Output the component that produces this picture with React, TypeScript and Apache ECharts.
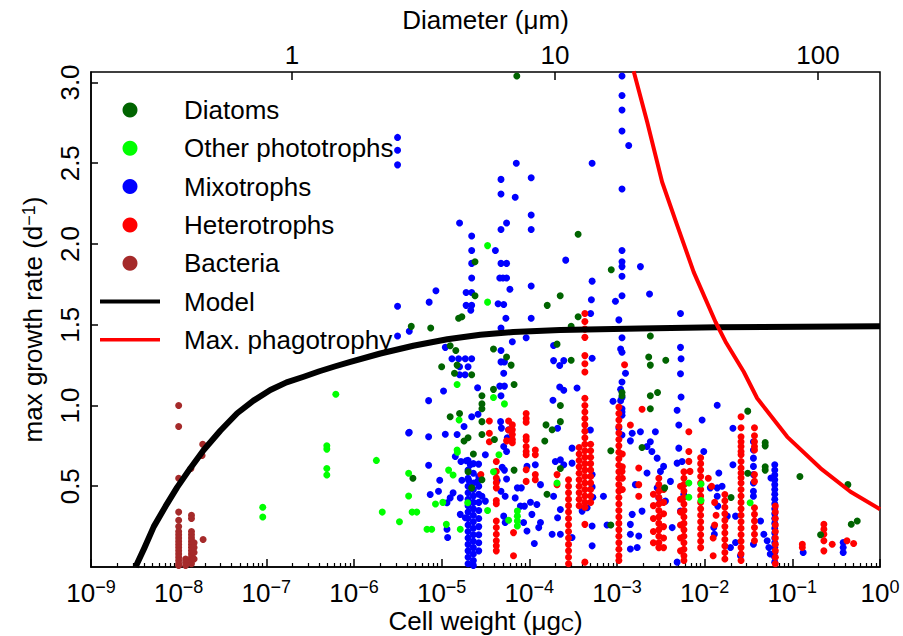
import { useEffect, useRef } from "react";
import * as echarts from "echarts";

// ---- axes ----
const X_MIN = 1e-9;
const X_MAX = 1;
const Y_MIN = 0;
const Y_MAX = 3.065;
const Y_TICKS = [0.5, 1.0, 1.5, 2.0, 2.5, 3.0];
const X_DECADES = [-9, -8, -7, -6, -5, -4, -3, -2, -1, 0];
const MINOR_MULTIPLIERS = [2, 3, 4, 5, 6, 7, 8, 9];
const DIAMETER_TICKS = [1, 10, 100];
const WEIGHT_OF_1UM_CELL = 1.96e-7;

// ---- data: [cell weight µgC, max growth rate d^-1] ----
const diatoms: [number, number][] = [
  [4.7e-6, 0.55], [7.2e-5, 3.04], [2.4e-5, 1.89], [2.4e-5, 1.68], [1.56e-5, 1.54], [1.7e-5, 1.55],
  [1.6e-4, 1.62], [2.25e-4, 1.68], [3.6e-4, 2.06], [8.6e-4, 1.84], [3.6e-4, 1.55],
  [4.5e-6, 1.49], [7.5e-6, 1.48], [1.0e-5, 1.24], [1.45e-5, 1.34], [1.5e-5, 1.25], [1.4e-5, 1.2],
  [2.2e-5, 1.19], [1.25e-5, 1.37], [2.88e-5, 1.06], [2.88e-5, 1.01], [2.88e-5, 0.98], [3.9e-5, 1.35],
  [5.5e-5, 1.3], [6.2e-5, 1.25], [3.9e-5, 1.1], [6.7e-5, 1.13], [1.25e-5, 0.93], [1.6e-5, 0.95],
  [2.88e-5, 0.9], [2.88e-5, 0.82], [2.0e-5, 0.8], [1.8e-5, 0.78], [4.0e-5, 0.79], [2.3e-5, 0.7],
  [2.0e-5, 0.59], [2.88e-5, 0.54], [2.2e-5, 0.49], [6.7e-5, 0.6], [1.55e-4, 0.88], [1.82e-4, 0.85],
  [1.5e-4, 0.78], [1.59e-4, 0.45],
  [3.0e-4, 1.49], [2.07e-4, 1.38], [3.0e-4, 1.28], [2.4e-3, 1.43], [2.3e-3, 1.3], [2.4e-3, 1.25],
  [3.6e-3, 1.28], [2.4e-3, 1.06], [2.9e-3, 1.08], [2.4e-3, 0.98], [1.14e-3, 1.08], [1.14e-3, 1.06],
  [2.26e-4, 1.0], [2.26e-4, 0.9], [2.26e-4, 0.61], [8.5e-4, 0.72], [1.93e-3, 0.74], [3.5e-3, 0.49],
  [8.5e-4, 0.26],
  [3.1e-2, 0.965], [4.9e-2, 0.77], [4.9e-2, 0.75], [4.9e-2, 0.62], [4.9e-2, 0.6], [3.1e-2, 0.58],
  [2.0e-2, 0.43], [0.122, 0.56], [0.43, 0.51], [0.55, 0.285], [0.47, 0.265], [0.21, 0.2],
];

const otherPhototrophs: [number, number][] = [
  [9.1e-8, 0.37], [9.1e-8, 0.31], [6.2e-7, 1.07], [4.9e-7, 0.75], [4.9e-7, 0.73], [4.9e-7, 0.61],
  [4.9e-7, 0.57], [1.8e-6, 0.66], [2.1e-6, 0.34], [3.3e-6, 0.28], [4.2e-6, 0.58], [4.2e-6, 0.44],
  [4.6e-6, 0.34], [5.2e-6, 0.34], [3.34e-5, 1.99], [3.34e-5, 1.64], [1.5e-5, 1.13], [3.9e-5, 1.05],
  [5.2e-5, 1.01], [1.58e-5, 0.91], [1.5e-5, 0.725], [1.51e-5, 0.71], [1.2e-5, 0.6], [1.35e-5, 0.57],
  [3.9e-5, 0.59], [4.5e-5, 0.695], [8.5e-6, 0.39], [1.03e-5, 0.4], [6.8e-6, 0.234], [7.7e-6, 0.234],
  [1.13e-5, 0.264], [1.63e-5, 0.234], [1.98e-5, 0.398], [3.34e-5, 0.35], [5.8e-5, 0.29],
  [7.3e-5, 0.346], [7.3e-5, 0.315], [7.3e-5, 0.285], [7.3e-5, 0.254], [2.07e-4, 0.52],
  [6.6e-3, 0.52], [9.1e-3, 0.514], [6.6e-3, 0.432], [9.1e-3, 0.412], [3.3e-2, 0.398],
];

const mixotrophs: [number, number][] = [
  [4.2e-6, 0.83], [3.14e-6, 2.66], [3.14e-6, 2.58], [3.14e-6, 2.49], [3.14e-6, 1.43], [7.1e-5, 2.5],
  [1.05e-4, 2.41], [4.75e-5, 2.4], [4.75e-5, 2.31], [6.9e-5, 2.29], [1.05e-4, 2.18], [1.6e-5, 2.13],
  [5.5e-5, 2.13], [4.75e-5, 2.09], [1.05e-4, 2.09], [2.2e-5, 2.05], [2.2e-5, 1.96], [4.1e-5, 1.96],
  [2.2e-5, 1.88], [4.75e-5, 1.88], [5.5e-5, 1.88], [2.2e-5, 1.79], [4.6e-5, 1.79], [5.0e-5, 1.79],
  [5.5e-5, 1.79], [6.0e-5, 1.72], [1.05e-4, 1.74], [8.6e-6, 1.71], [1.9e-5, 1.7], [2.2e-5, 1.7],
  [7.2e-6, 1.64], [3.14e-6, 1.615], [1.9e-5, 1.62], [2.2e-5, 1.62], [2.15e-5, 1.59], [4.4e-5, 1.63],
  [5.1e-5, 1.625], [5.4e-5, 1.54], [1.05e-4, 1.54],
  [1.14e-3, 3.04], [1.14e-3, 2.92], [1.14e-3, 2.83], [1.14e-3, 2.7], [1.36e-3, 2.61], [5.2e-4, 2.5],
  [1.14e-3, 2.34], [1.14e-3, 1.96], [2.6e-4, 1.9], [1.14e-3, 1.89], [1.14e-3, 1.86], [1.85e-3, 1.86],
  [1.14e-3, 1.8], [5.2e-4, 1.77], [5.1e-4, 1.655], [9.6e-4, 1.645], [1.14e-3, 1.68], [2.35e-3, 1.69],
  [5.0e-4, 1.57], [1.05e-3, 1.53], [5.3e-3, 1.57],
  [4.27e-6, 1.46], [1.1e-5, 1.36], [1.31e-5, 1.29], [1.56e-5, 1.29], [1.86e-5, 1.29], [2.2e-5, 1.29],
  [1.6e-5, 1.24], [2.0e-5, 1.24], [1.6e-5, 1.19], [1.85e-5, 1.19], [1.05e-5, 1.09], [7.1e-6, 1.03],
  [2.57e-5, 1.11], [4.75e-5, 1.48], [6.4e-5, 1.395], [9.2e-5, 1.42], [4.75e-5, 1.34], [4.75e-5, 1.27],
  [5.2e-5, 1.27], [5.1e-5, 1.2], [4.6e-5, 1.12], [5.2e-5, 1.12], [4.75e-5, 1.06], [2.2e-5, 0.93],
  [2.6e-5, 0.946], [1.8e-5, 0.87], [1.5e-5, 0.82], [1.1e-5, 0.822], [7.1e-6, 0.807], [4.27e-6, 0.834],
  [4.7e-5, 0.9], [4.8e-5, 0.86], [5.8e-5, 0.85], [5.6e-5, 0.8], [5.1e-5, 0.746], [5.5e-5, 0.715],
  [1.43e-5, 0.684], [1.66e-5, 0.653], [1.91e-5, 0.658], [2.12e-5, 0.633], [2.64e-5, 0.637],
  [3.15e-5, 0.695], [7.1e-6, 0.63], [4.9e-5, 0.617], [5.2e-5, 0.6], [9.4e-5, 0.623], [1.17e-4, 0.633],
  [9.5e-6, 0.537], [1.7e-5, 0.537], [2.03e-5, 0.537], [2.57e-5, 0.53], [4.3e-5, 0.535], [5.5e-5, 0.545],
  [7.3e-5, 0.49], [8.1e-5, 0.49], [1.34e-4, 0.51], [1.35e-5, 0.459], [1.25e-5, 0.428], [9.2e-6, 0.469],
  [7.4e-6, 0.449], [1.63e-5, 0.428], [1.15e-5, 0.398], [2.88e-5, 0.438], [3.15e-5, 0.408],
  [4.75e-5, 0.469], [5.3e-5, 0.438], [6.9e-5, 0.428], [7.9e-5, 0.377], [8.8e-5, 0.377], [1.03e-4, 0.401],
  [1.22e-4, 0.387], [1.63e-5, 0.326], [1.86e-5, 0.305], [1.15e-5, 0.234], [1.17e-5, 0.183],
  [5.1e-5, 0.315], [5.3e-5, 0.275], [8.6e-5, 0.275], [1.07e-4, 0.326], [1.34e-4, 0.275],
  [1.28e-4, 0.244], [9.4e-5, 0.223], [1.14e-4, 0.146], [1.82e-4, 0.203], [1.98e-4, 0.653],
  [1.89e-4, 1.278], [1.86e-4, 1.033],
  [1.14e-3, 1.42], [1.1e-3, 1.35], [1.14e-3, 1.33], [1.25e-3, 1.2], [1.14e-3, 1.145], [1.1e-3, 1.1],
  [1.14e-3, 1.05], [1.1e-3, 1.03], [1.14e-3, 0.98], [1.14e-3, 0.96], [1.14e-3, 0.94], [1.05e-3, 0.86],
  [1.14e-3, 0.817], [1.49e-3, 0.828], [1.42e-3, 0.781], [9.0e-4, 1.026], [5.2e-4, 1.293],
  [3.5e-4, 1.108], [2.47e-4, 1.278], [2.22e-4, 1.248], [1.89e-4, 1.371], [2.22e-4, 1.114],
  [2.47e-4, 1.094], [4.97e-4, 0.848], [2.1e-4, 0.859], [3.07e-4, 0.736], [2.26e-4, 0.664],
  [2.47e-4, 0.633], [3.07e-4, 0.643], [5.2e-4, 0.572], [5.2e-4, 0.496], [5.3e-4, 0.432], [7.0e-4, 0.438],
  [4.56e-4, 0.367], [4.0e-4, 0.346], [5.2e-4, 0.254], [7.7e-4, 0.26], [2.26e-4, 0.356], [2.1e-4, 0.305],
  [2.26e-4, 0.203], [3.07e-4, 0.183], [5.2e-4, 0.131], [1.89e-4, 0.438],
  [1.85e-3, 0.838], [2.2e-3, 0.746], [2.4e-3, 0.776], [2.74e-3, 0.838], [2.5e-3, 0.715], [2.87e-3, 0.674],
  [3.13e-3, 0.592], [3.4e-3, 0.623], [2.2e-3, 0.582], [1.62e-3, 0.51], [1.93e-3, 0.346], [1.49e-3, 0.326],
  [1.42e-3, 0.264], [1.42e-3, 0.203], [1.77e-3, 0.192], [1.7e-3, 0.121], [1.42e-3, 0.111],
  [2.87e-3, 0.49], [3.0e-3, 0.428], [3.57e-3, 0.408], [4.07e-3, 0.53], [4.85e-3, 0.643], [5.53e-3, 0.653],
  [5.07e-3, 0.736], [5.07e-3, 0.879], [4.85e-3, 0.971], [5.38e-3, 1.053], [5.3e-3, 1.197],
  [5.38e-3, 1.289], [5.3e-3, 1.36], [9.35e-3, 0.91], [9.77e-3, 0.715], [1.39e-2, 1.002], [1.16e-2, 0.49],
  [1.39e-2, 0.49], [1.27e-2, 0.244], [4.85e-3, 0.03], [5.77e-3, 0.449], [5.3e-3, 0.346], [4.26e-3, 0.244],
  [2.1e-2, 0.859], [2.1e-2, 0.633], [5.7e-2, 0.551], [1.45e-2, 0.582], [1.58e-2, 0.5], [1.39e-2, 0.438],
  [1.41e-2, 0.377], [1.81e-2, 0.315], [2.25e-2, 0.315], [1.29e-2, 0.203], [1.97e-2, 0.121],
  [2.56e-2, 0.07], [2.25e-2, 0.152], [3.6e-2, 0.141], [4.34e-2, 0.285], [4.73e-2, 0.203],
  [5.17e-2, 0.162], [5.4e-2, 0.121], [5.6e-2, 0.08], [0.133, 0.09], [0.38, 0.152], [0.38, 0.121],
  [0.38, 0.09],
];

// vertical runs of points sharing one cell weight: [weight, growth rates]
const mixotrophColumns: [number, number[]][] = [
  [2.0e-5, [0.66, 0.6, 0.55, 0.5, 0.46, 0.42, 0.38, 0.34, 0.3, 0.26, 0.22, 0.18, 0.14, 0.1, 0.06, 0.02]],
  [2.3e-5, [0.64, 0.58, 0.52, 0.48, 0.44, 0.4, 0.36, 0.32, 0.28, 0.24, 0.2, 0.16, 0.12, 0.08, 0.04, 0.01]],
  [2.65e-5, [0.56, 0.5, 0.45, 0.4, 0.35, 0.3, 0.25, 0.2, 0.15, 0.1]],
  [3.6e-2, [0.776, 0.725, 0.674, 0.623, 0.572, 0.52, 0.469, 0.438]],
  [6.3e-2, [0.633, 0.6, 0.57, 0.54, 0.51, 0.48, 0.45, 0.42, 0.39, 0.36, 0.33, 0.3, 0.27, 0.24, 0.21, 0.18, 0.15, 0.12, 0.09, 0.06, 0.03]],
];

const heterotrophs: [number, number][] = [
  [4.3e-4, 1.57], [4.3e-4, 1.52],
  [3.5e-5, 0.904], [3.5e-5, 0.828], [3.5e-5, 0.776], [5.8e-5, 0.904], [5.8e-5, 0.848], [5.5e-5, 0.781],
  [9.2e-5, 0.951], [9.2e-5, 0.92], [9.2e-5, 0.896], [9.2e-5, 0.807], [9.2e-5, 0.787], [9.2e-5, 0.746],
  [9.2e-5, 0.715], [9.2e-5, 0.695], [1.17e-4, 0.725], [1.17e-4, 0.695], [9.2e-5, 0.602], [9.2e-5, 0.53],
  [1.17e-4, 0.572], [1.17e-4, 0.541], [2.8e-5, 0.572], [6.6e-5, 0.213], [6.6e-5, 0.07], [2.07e-4, 0.572],
  [2.07e-4, 0.51],
  [1.22e-3, 1.252], [1.42e-3, 0.879], [1.14e-3, 0.592], [1.77e-3, 0.613], [1.77e-3, 0.51], [1.77e-3, 0.438],
  [1.93e-3, 0.977], [6.6e-3, 0.838], [6.6e-3, 0.715], [6.6e-3, 0.654], [6.8e-3, 0.592],
  [1.1e-2, 0.55], [1.2e-2, 0.5], [1.3e-2, 0.4], [1.35e-2, 0.32], [1.3e-2, 0.26], [1.25e-2, 0.18],
  [1.25e-2, 0.07], [0.13, 0.141], [0.13, 0.121], [0.285, 0.141], [0.42, 0.162], [0.5, 0.146],
];

const heterotrophColumns: [number, number[]][] = [
  [6.4e-5, [0.88, 0.85, 0.82, 0.79, 0.77]],
  [4.2e-5, [0.653, 0.592, 0.551, 0.521, 0.49, 0.412, 0.392, 0.285, 0.244, 0.203, 0.162, 0.131, 0.1]],
  [4.3e-4, [1.473, 1.422, 1.309, 1.258, 1.207, 1.045, 1.0, 0.96, 0.92, 0.88, 0.84, 0.8, 0.76, 0.72, 0.68, 0.64, 0.6, 0.56, 0.52, 0.48, 0.44, 0.4, 0.37, 0.264, 0.03]],
  [3.7e-4, [0.74, 0.7, 0.66, 0.62, 0.58, 0.54, 0.5, 0.46, 0.42, 0.38]],
  [5.0e-4, [0.76, 0.72, 0.68, 0.64, 0.6, 0.56, 0.52, 0.48, 0.44, 0.4]],
  [1.05e-3, [0.99, 0.95, 0.91, 0.87, 0.83, 0.79, 0.75, 0.71, 0.67, 0.63, 0.59, 0.55, 0.51, 0.47, 0.43, 0.39, 0.35, 0.31, 0.27, 0.23, 0.19, 0.15, 0.11, 0.07, 0.04]],
  [1.15e-3, [0.7, 0.62, 0.55, 0.48]],
  [2.8e-4, [0.54, 0.5, 0.46, 0.42, 0.38, 0.34, 0.3, 0.26, 0.22, 0.18, 0.14, 0.1, 0.06, 0.02]],
  [3.0e-3, [0.55, 0.51, 0.47, 0.43, 0.39, 0.35, 0.31, 0.27, 0.23, 0.19, 0.15, 0.12]],
  [2.6e-3, [0.45, 0.38, 0.3, 0.22, 0.15]],
  [3.4e-3, [0.48, 0.4, 0.33, 0.25, 0.18, 0.12]],
  [5.8e-3, [0.59, 0.55, 0.51, 0.47, 0.43, 0.39, 0.35, 0.31, 0.27, 0.23, 0.19, 0.15, 0.11, 0.07, 0.04]],
  [5.3e-3, [0.5, 0.42, 0.34, 0.26, 0.18, 0.1]],
  [9.0e-3, [0.676, 0.64, 0.6, 0.56, 0.52, 0.48, 0.44, 0.4, 0.36, 0.32, 0.28, 0.24, 0.2, 0.16, 0.12]],
  [2.6e-2, [0.93, 0.862, 0.807, 0.776, 0.746, 0.715, 0.695, 0.653, 0.613, 0.582, 0.553, 0.52, 0.48, 0.44, 0.4, 0.36, 0.32, 0.28, 0.24, 0.2, 0.16, 0.12, 0.08, 0.04]],
  [3.7e-2, [0.862, 0.813, 0.776, 0.746, 0.725, 0.572, 0.53, 0.367, 0.326, 0.285, 0.244, 0.203, 0.162]],
  [1.7e-2, [0.449, 0.41, 0.37, 0.33, 0.29, 0.25, 0.21, 0.17, 0.13, 0.09, 0.05]],
  [6.4e-2, [0.377, 0.34, 0.3, 0.26, 0.22, 0.18, 0.14, 0.1, 0.06, 0.02]],
  [0.229, [0.264, 0.234, 0.203, 0.162, 0.1]],
];

const bacteria: [number, number][] = [
  [1.88e-8, 0.76], [1.85e-8, 0.69], [1.38e-8, 0.61], [1.9e-8, 0.17],
];
const bacteriaColumns: [number, number[]][] = [
  [1.0e-8, [1.0, 0.87, 0.55, 0.34, 0.29, 0.25, 0.22, 0.2, 0.18, 0.16, 0.14, 0.12, 0.1, 0.08, 0.06, 0.04, 0.02, 0.01]],
  [1.4e-8, [0.32, 0.3, 0.22, 0.2, 0.18, 0.16, 0.14, 0.12, 0.1, 0.08, 0.06, 0.04, 0.02]],
  [1.5e-8, [0.15, 0.12, 0.09, 0.05]],
  [1.2e-8, [0.05, 0.03, 0.01]],
];

// points
const modelCurve: [number, number][] = [
  [3.22e-9, 0], [4.08e-9, 0.12], [5.2e-9, 0.25], [7.07e-9, 0.375], [9.6e-9, 0.493], [1.36e-8, 0.612],
  [1.93e-8, 0.724], [3.0e-8, 0.845], [4.65e-8, 0.952], [7.13e-8, 1.03], [1.11e-7, 1.096],
  [1.7e-7, 1.143], [2.67e-7, 1.178], [4.03e-7, 1.212], [6.14e-7, 1.243], [9.1e-7, 1.27],
  [2.0e-6, 1.322], [4.75e-6, 1.37], [1.16e-5, 1.41], [2.76e-5, 1.438], [6.56e-5, 1.455],
  [2.25e-4, 1.467], [1.84e-3, 1.477], [1.39e-2, 1.484], [1, 1.49],
];

const maxPhagotrophy: [number, number][] = [
  [1.55e-3, 3.07], [2.21e-3, 2.755], [3.27e-3, 2.384], [4.85e-3, 2.117], [7.5e-3, 1.826],
  [1.33e-2, 1.517], [1.73e-2, 1.395], [2.79e-2, 1.209], [3.97e-2, 1.045], [8.75e-2, 0.806],
  [0.21, 0.611], [0.461, 0.466], [1.0, 0.358],
];

const COLORS = {
  diatoms: "#006400",
  other: "#00ff00",
  mixo: "#0000ff",
  hetero: "#ff0000",
  bacteria: "#a52a2a",
  model: "#000000",
  phago: "#ff0000",
};

const FONT = "'Liberation Sans', Arial, Helvetica, sans-serif";
const FS = 26;

const expand = (cols: [number, number[]][]) =>
  cols.flatMap(([x, ys]) => ys.map((y) => [x, y] as [number, number]));

export default function App() {
  const ref = useRef<HTMLDivElement>(null);
  useEffect(() => {
    const chart = echarts.init(ref.current!, null, { renderer: "svg" });

    const diamMin = Math.log10(X_MIN / WEIGHT_OF_1UM_CELL) / 3;
    const diamMax = Math.log10(X_MAX / WEIGHT_OF_1UM_CELL) / 3;
    const minorTicks = X_DECADES.slice(0, -1).flatMap((d) =>
      MINOR_MULTIPLIERS.map((m) => d + Math.log10(m))
    );

    const scatter = (name: string, color: string, data: [number, number][], z: number) => ({
      type: "scatter",
      name,
      data,
      symbol: "circle",
      symbolSize: 7,
      itemStyle: { color, opacity: 1 },
      xAxisIndex: 0,
      yAxisIndex: 0,
      silent: true,
      z,
    });

    const line = (name: string, color: string, data: [number, number][], width: number) => ({
      type: "line",
      name,
      data,
      symbol: "none",
      showSymbol: false,
      smooth: false,
      lineStyle: { color, width, join: "round", cap: "butt" },
      itemStyle: { color },
      xAxisIndex: 0,
      yAxisIndex: 0,
      silent: true,
      z: 10,
    });

    const textBase = { fontFamily: FONT, color: "#000" };

    chart.setOption({
      animation: false,
      grid: {
        left: 91,
        right: 23,
        top: 72,
        bottom: 69,
        show: true,
        borderColor: "#000",
        borderWidth: 1.5,
        containLabel: false,
        outerBoundsMode: "none",
      },
      legend: {
        orient: "vertical",
        left: 95,
        top: 92,
        itemWidth: 60,
        itemHeight: 15,
        itemGap: 12.3,
        symbolKeepAspect: true,
        selectedMode: false,
        textStyle: { ...textBase, fontSize: FS, lineHeight: 26, padding: [0, 0, 0, 19] },
        data: [
          { name: "Diatoms", icon: "circle" },
          { name: "Other phototrophs", icon: "circle" },
          { name: "Mixotrophs", icon: "circle" },
          { name: "Heterotrophs", icon: "circle" },
          { name: "Bacteria", icon: "circle" },
          { name: "Model", icon: "path://M0,0H60V4H0Z" },
          { name: "Max. phagotrophy", icon: "path://M0,0H60V3.5H0Z" },
        ],
      },
      xAxis: [
        {
          type: "log",
          logBase: 10,
          min: X_MIN,
          max: X_MAX,
          position: "bottom",
          name: "Cell weight (μg{c|C})",
          nameLocation: "middle",
          nameGap: 41,
          nameMoveOverlap: false,
          nameTextStyle: {
            ...textBase,
            fontSize: FS,
            lineHeight: 26,
            rich: { c: { ...textBase, fontSize: 18, verticalAlign: "bottom", lineHeight: 20 } },
          },
          axisLine: { show: true, onZero: false, lineStyle: { color: "#000", width: 1.5 } },
          axisTick: { show: true, inside: true, length: 8, lineStyle: { color: "#000", width: 1.5 } },
          splitLine: { show: false },
          minorTick: { show: false },
          axisLabel: {
            margin: 11,
            formatter: (v: number) => {
              const e = Math.round(Math.log10(v));
              return `{b|10}{s|${e < 0 ? "−" : ""}${Math.abs(e)}}`;
            },
            rich: {
              b: { ...textBase, fontSize: FS, lineHeight: 30 },
              s: { ...textBase, fontSize: 18, verticalAlign: "top", lineHeight: 18 },
            },
          },
        },
        {
          type: "value",
          min: diamMin,
          max: diamMax,
          position: "top",
          name: "Diameter (μm)",
          nameLocation: "middle",
          nameGap: 39,
          nameMoveOverlap: false,
          nameTextStyle: { ...textBase, fontSize: FS },
          axisLine: { show: false, onZero: false },
          splitLine: { show: false },
          axisTick: {
            show: true,
            inside: true,
            length: 8,
            customValues: DIAMETER_TICKS.map((d) => Math.log10(d)),
            lineStyle: { color: "#000", width: 1.5 },
          },
          axisLabel: {
            ...textBase,
            fontSize: FS,
            margin: 4,
            customValues: DIAMETER_TICKS.map((d) => Math.log10(d)),
            formatter: (v: number) => String(Math.round(Math.pow(10, v))),
          },
        },
        {
          type: "value",
          min: X_DECADES[0],
          max: X_DECADES[X_DECADES.length - 1],
          position: "bottom",
          axisLine: { show: false, onZero: false },
          splitLine: { show: false },
          axisLabel: { show: false, customValues: [] },
          axisTick: {
            show: true,
            inside: true,
            length: 4,
            customValues: minorTicks,
            lineStyle: { color: "#000", width: 1.2 },
          },
        },
      ],
      yAxis: [
        {
          type: "value",
          min: Y_MIN,
          max: Y_MAX,
          position: "left",
          name: "max growth rate (d{s|−1})",
          nameLocation: "middle",
          nameGap: 45,
          nameMoveOverlap: false,
          nameTextStyle: {
            ...textBase,
            fontSize: FS,
            rich: { s: { ...textBase, fontSize: 18, verticalAlign: "top", padding: [0, 0, 8, 0] } },
          },
          axisLine: { show: true, onZero: false, lineStyle: { color: "#000", width: 1.5 } },
          splitLine: { show: false },
          axisTick: {
            show: true,
            inside: true,
            length: 7,
            customValues: Y_TICKS,
            lineStyle: { color: "#000", width: 1.5 },
          },
          axisLabel: {
            ...textBase,
            fontSize: FS,
            rotate: 90,
            margin: 8,
            customValues: Y_TICKS,
            formatter: (v: number) => v.toFixed(1),
          },
        },
      ],
      series: [
        scatter("Mixotrophs", COLORS.mixo, [...mixotrophs, ...expand(mixotrophColumns)], 2),
        scatter("Heterotrophs", COLORS.hetero, [...heterotrophs, ...expand(heterotrophColumns)], 3),
        scatter("Diatoms", COLORS.diatoms, diatoms, 4),
        scatter("Other phototrophs", COLORS.other, otherPhototrophs, 5),
        scatter("Bacteria", COLORS.bacteria, [...bacteria, ...expand(bacteriaColumns)], 5),
        line("Model", COLORS.model, modelCurve, 6),
        line("Max. phagotrophy", COLORS.phago, maxPhagotrophy, 4),
      ],
    });
    return () => chart.dispose();
  }, []);
  return (
    <div
      ref={ref}
      style={{ position: "fixed", left: 0, top: 0, width: 903, height: 636, background: "#fff" }}
    />
  );
}
